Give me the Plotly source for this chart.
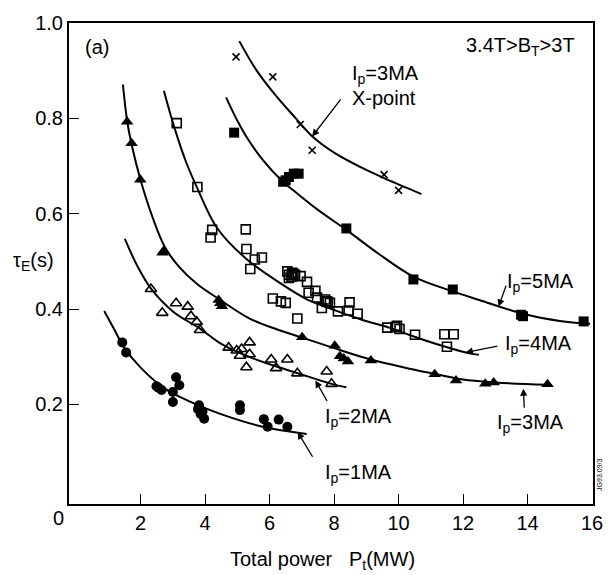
import plotly.graph_objects as go

# ---------------- data ----------------
# Ip = 1 MA (filled circles)
ip1_x = [1.43, 1.55, 2.49, 2.55, 2.65, 3.10, 3.20, 3.00, 3.00, 3.78, 3.81, 3.86, 3.92, 3.97, 5.08, 5.08, 5.82, 5.94, 6.28, 6.55]
ip1_y = [0.330, 0.309, 0.238, 0.235, 0.230, 0.257, 0.240, 0.226, 0.205, 0.190, 0.198, 0.180, 0.185, 0.170, 0.198, 0.188, 0.169, 0.153, 0.168, 0.153]
# Ip = 2 MA (open triangles)
ip2_x = [2.32, 2.67, 3.10, 3.46, 3.56, 3.74, 3.84, 4.73, 4.98, 5.13, 5.38, 5.08, 5.38, 5.28, 6.05, 6.55, 6.20, 6.86, 7.77, 7.92]
ip2_y = [0.442, 0.392, 0.412, 0.405, 0.385, 0.373, 0.356, 0.319, 0.313, 0.316, 0.330, 0.302, 0.305, 0.278, 0.294, 0.294, 0.276, 0.265, 0.269, 0.243]
# Ip = 3 MA (filled triangles)
ip3_x = [1.58, 1.72, 1.99, 2.68, 2.72, 4.42, 4.52, 4.47, 7.01, 8.02, 8.18, 8.30, 8.43, 9.14, 11.12, 11.78, 12.69, 12.95, 14.62]
ip3_y = [0.793, 0.748, 0.671, 0.518, 0.522, 0.419, 0.406, 0.412, 0.341, 0.323, 0.301, 0.296, 0.290, 0.292, 0.263, 0.250, 0.243, 0.246, 0.242]
# Ip = 4 MA (open squares)
ip4_x = [3.12, 3.76, 4.17, 4.22, 5.26, 5.28, 5.54, 5.76, 5.40, 6.10, 6.35, 6.50, 6.86,
         6.55, 6.60, 6.70, 6.79, 6.96, 7.16, 6.60, 6.68, 6.74, 7.21, 7.42, 7.47, 7.62,
         7.72, 7.76, 7.80, 7.87, 8.12, 8.48, 8.45, 8.73, 9.65, 9.90, 10.03, 9.95, 10.51,
         11.42, 11.71, 11.50]
ip4_y = [0.790, 0.656, 0.550, 0.566, 0.567, 0.526, 0.504, 0.508, 0.484, 0.422, 0.416, 0.413, 0.380,
         0.479, 0.472, 0.476, 0.472, 0.469, 0.457, 0.465, 0.468, 0.474, 0.434, 0.438, 0.424, 0.402,
         0.420, 0.416, 0.415, 0.413, 0.395, 0.414, 0.397, 0.390, 0.361, 0.362, 0.358, 0.365, 0.346,
         0.347, 0.347, 0.321]
# Ip = 5 MA (filled squares)
ip5_x = [4.90, 6.42, 6.50, 6.60, 6.75, 6.90, 8.38, 10.46, 11.68, 13.80, 13.86, 15.74]
ip5_y = [0.770, 0.667, 0.670, 0.677, 0.684, 0.684, 0.569, 0.462, 0.441, 0.388, 0.385, 0.374]
# Ip = 3 MA X-point (crosses)
xpt_x = [4.96, 6.10, 6.95, 7.32, 9.55, 10.00]
xpt_y = [0.929, 0.887, 0.787, 0.733, 0.682, 0.649]

# fitted curves
c1_x = [0.87, 1.20, 1.48, 2.00, 2.75, 3.46, 4.47, 5.79, 7.15]
c1_y = [0.396, 0.355, 0.320, 0.277, 0.233, 0.208, 0.180, 0.153, 0.138]
c2_x = [1.51, 1.90, 2.34, 3.00, 3.86, 4.50, 5.28, 6.00, 6.80, 7.92, 8.38]
c2_y = [0.547, 0.490, 0.441, 0.395, 0.358, 0.327, 0.302, 0.284, 0.267, 0.243, 0.236]
c3_x = [1.45, 1.58, 1.72, 2.00, 2.34, 2.75, 3.20, 3.76, 4.45, 5.38, 6.20, 7.01, 8.00, 9.14, 10.20, 11.12, 12.00, 13.00, 14.62]
c3_y = [0.871, 0.795, 0.745, 0.670, 0.598, 0.530, 0.488, 0.452, 0.420, 0.380, 0.358, 0.340, 0.318, 0.294, 0.277, 0.264, 0.252, 0.246, 0.241]
c4_x = [2.72, 3.05, 3.40, 3.76, 4.37, 5.28, 6.40, 7.11, 7.72, 8.84, 9.75, 10.36, 11.20, 12.19, 12.49]
c4_y = [0.858, 0.780, 0.710, 0.653, 0.570, 0.505, 0.451, 0.422, 0.405, 0.378, 0.360, 0.345, 0.326, 0.307, 0.304]
c5_x = [4.65, 5.00, 5.34, 5.80, 6.40, 6.81, 7.50, 8.38, 9.40, 10.46, 11.68, 12.50, 13.86, 15.00, 15.94]
c5_y = [0.844, 0.795, 0.755, 0.712, 0.668, 0.645, 0.608, 0.566, 0.515, 0.468, 0.437, 0.419, 0.390, 0.375, 0.369]
cx_x = [5.06, 5.60, 6.20, 6.80, 7.31, 8.00, 8.84, 9.60, 10.26, 10.71]
cx_y = [0.962, 0.900, 0.847, 0.801, 0.763, 0.728, 0.697, 0.673, 0.654, 0.641]

x_ticks = [2, 4, 6, 8, 10, 12, 14, 16]
y_ticks = [0.2, 0.4, 0.6, 0.8, 1.0]
y_tick_text = ["0.2", "0.4", "0.6", "0.8", "1.0"]

# ---------------- figure ----------------
FONT = "Liberation Sans, Arial, sans-serif"
fig = go.Figure()

for cx, cy in [(c1_x, c1_y), (c2_x, c2_y), (c3_x, c3_y), (c4_x, c4_y), (c5_x, c5_y), (cx_x, cx_y)]:
    fig.add_trace(go.Scatter(x=cx, y=cy, mode="lines",
                             line=dict(color="black", width=2, shape="spline", smoothing=1.0),
                             hoverinfo="skip"))

fig.add_trace(go.Scatter(x=ip1_x, y=ip1_y, mode="markers",
                         marker=dict(symbol="circle", size=10, color="black")))
fig.add_trace(go.Scatter(x=ip2_x, y=ip2_y, mode="markers",
                         marker=dict(symbol="triangle-up-open", size=10, color="black",
                                     line=dict(width=1.6, color="black"))))
fig.add_trace(go.Scatter(x=ip3_x, y=ip3_y, mode="markers",
                         marker=dict(symbol="triangle-up", size=11, color="black")))
fig.add_trace(go.Scatter(x=ip4_x, y=ip4_y, mode="markers",
                         marker=dict(symbol="square-open", size=9, color="black",
                                     line=dict(width=1.6, color="black"))))
fig.add_trace(go.Scatter(x=ip5_x, y=ip5_y, mode="markers",
                         marker=dict(symbol="square", size=10, color="black")))
fig.add_trace(go.Scatter(x=xpt_x, y=xpt_y, mode="markers",
                         marker=dict(symbol="x-thin", size=7, color="black",
                                     line=dict(width=1.6, color="black"))))

ann = []
def txt(x, y, s, size=20, xanchor="left", yanchor="middle", angle=0, ref="data"):
    xr, yr = ("x", "y") if ref == "data" else ("paper", "paper")
    ann.append(dict(x=x, y=y, xref=xr, yref=yr, text=s, showarrow=False,
                    xanchor=xanchor, yanchor=yanchor, textangle=angle,
                    font=dict(family=FONT, size=size, color="black")))

def arrow(hx, hy, tx, ty):
    ann.append(dict(x=hx, y=hy, ax=tx, ay=ty, xref="x", yref="y", axref="x", ayref="y",
                    text="", showarrow=True, arrowhead=2, arrowsize=1.1, arrowwidth=1.3,
                    arrowcolor="black", standoff=0))

txt(0.2, 0.950, "(a)", size=20)
txt(15.54, 0.950, "3.4T&gt;B<sub>T</sub>&gt;3T", size=20, xanchor="right")
txt(8.48, 0.892, "I<sub>p</sub>=3MA", size=20)
txt(8.48, 0.843, "X-point", size=20)
txt(13.29, 0.455, "I<sub>p</sub>=5MA", size=20)
txt(13.25, 0.326, "I<sub>p</sub>=4MA", size=20)
txt(12.99, 0.159, "I<sub>p</sub>=3MA", size=20)
txt(7.66, 0.173, "I<sub>p</sub>=2MA", size=20)
txt(7.66, 0.055, "I<sub>p</sub>=1MA", size=20)

arrow(7.32, 0.762, 8.24, 0.843)
arrow(13.10, 0.405, 13.35, 0.452)
arrow(12.08, 0.309, 13.11, 0.323)
arrow(13.87, 0.233, 13.90, 0.190)
arrow(7.42, 0.250, 7.81, 0.204)
arrow(6.87, 0.142, 7.36, 0.087)

txt(-0.0674, 0.505, "τ<sub>E</sub>(s)", size=20, xanchor="center", ref="paper")
txt(0.483, -0.117, "Total power&nbsp;&nbsp;&nbsp;P<sub>t</sub>(MW)", size=20, xanchor="center", ref="paper")
txt(-0.0206, -0.029, "0", size=20, xanchor="center", ref="paper")
txt(1.011, 0.060, "JG93.09/3", size=7, xanchor="center", angle=-90, ref="paper")

fig.update_layout(
    width=615, height=575,
    margin=dict(l=69, r=12, t=21, b=71),
    paper_bgcolor="white", plot_bgcolor="white",
    showlegend=False,
    font=dict(family=FONT, size=20, color="black"),
    annotations=ann,
)
fig.update_xaxes(range=[-0.222, 16.03], tickvals=x_ticks, ticks="inside", ticklen=10, tickwidth=1.2,
                 tickcolor="black", showline=True, linewidth=2, linecolor="black", mirror=True,
                 showgrid=False, zeroline=False, tickfont=dict(family=FONT, size=20))
fig.update_yaxes(range=[-0.009, 1.0], tickvals=y_ticks, ticktext=y_tick_text, ticks="inside",
                 ticklen=10, tickwidth=1.2, tickcolor="black", showline=True, linewidth=2,
                 linecolor="black", mirror=True, showgrid=False, zeroline=False,
                 tickfont=dict(family=FONT, size=20))

fig.write_html("out.html", config={"displayModeBar": False},
               post_script="document.body.style.margin='0';document.body.style.overflow='hidden';")
